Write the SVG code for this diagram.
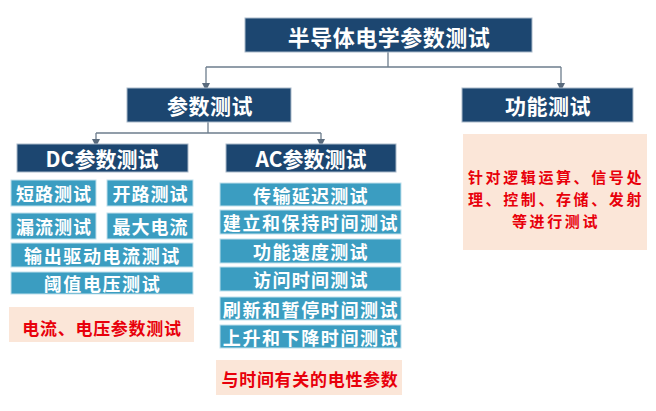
<svg xmlns="http://www.w3.org/2000/svg" width="656" height="411" viewBox="0 0 656 411">
<defs>
<marker id="arr" markerWidth="8" markerHeight="8" refX="4" refY="4" orient="auto" markerUnits="userSpaceOnUse">
<path d="M0,0 L8,4 L0,8 z" fill="#5a6b7d"/>
</marker>
<style>
.dark{fill:#1c4670;stroke:#a9b9c9;stroke-width:1}
.item{fill:#3b9dc1;stroke:#bfe0ec;stroke-width:1}
.note{fill:#fbe6d8}
.tw{fill:#ffffff;font-family:"Noto Sans CJK SC","Noto Sans",sans-serif;font-weight:bold;text-anchor:middle;dominant-baseline:central}
.tr{fill:#e8000b;font-family:"Noto Sans CJK SC","Noto Sans",sans-serif;font-weight:bold;text-anchor:middle;dominant-baseline:central}
.c{fill:none;stroke:#6d7d8d;stroke-width:1.3}
</style>
</defs>
<rect width="656" height="411" fill="#ffffff"/>
<g id="connectors">
<path class="c" d="M388,52 V67 M206,67 H561"/>
<path class="c" d="M206,67 V87" marker-end="url(#arr)"/>
<path class="c" d="M561,67 V87" marker-end="url(#arr)"/>
<path class="c" d="M208,122 V133 M96,133 H321"/>
<path class="c" d="M96,133 V143" marker-end="url(#arr)"/>
<path class="c" d="M321,133 V143" marker-end="url(#arr)"/>
</g>
<g id="root"><rect class="dark" x="245" y="18" width="287" height="34"/><text class="tw" x="389" y="35.5" font-size="22" letter-spacing="0.5">半导体电学参数测试</text></g>
<g id="param"><rect class="dark" x="127" y="88" width="164" height="34"/><text class="tw" x="210" y="105" font-size="21" letter-spacing="0.5">参数测试</text></g>
<g id="func"><rect class="dark" x="462" y="88" width="171" height="34"/><text class="tw" x="548" y="105" font-size="21" letter-spacing="0.5">功能测试</text></g>
<g id="func-note"><rect class="note" x="463" y="134" width="184" height="116"/>
<text class="tr" font-size="15" letter-spacing="2.6"><tspan x="556" y="176">针对逻辑运算、信号处</tspan><tspan x="556" y="198">理、控制、存储、发射</tspan><tspan x="556" y="220">等进行测试</tspan></text></g>
<g id="dc"><rect class="dark" x="17" y="144" width="171" height="28"/><text class="tw" x="102" y="158" font-size="21">DC参数测试</text></g>
<g id="ac"><rect class="dark" x="226" y="144" width="170" height="28"/><text class="tw" x="311" y="158" font-size="21">AC参数测试</text></g>
<g id="dc1"><rect class="item" x="11" y="180" width="85" height="26"/><text class="tw" x="54" y="193" font-size="18" letter-spacing="1">短路测试</text></g>
<g id="dc2"><rect class="item" x="107" y="180" width="86" height="26"/><text class="tw" x="150.5" y="193" font-size="18" letter-spacing="1">开路测试</text></g>
<g id="dc3"><rect class="item" x="11" y="213" width="85" height="26"/><text class="tw" x="54" y="226" font-size="18" letter-spacing="1">漏流测试</text></g>
<g id="dc4"><rect class="item" x="107" y="213" width="86" height="26"/><text class="tw" x="150.5" y="226" font-size="18" letter-spacing="1">最大电流</text></g>
<g id="dc5"><rect class="item" x="11" y="243" width="182" height="24"/><text class="tw" x="102.5" y="255" font-size="18" letter-spacing="1.6">输出驱动电流测试</text></g>
<g id="dc6"><rect class="item" x="11" y="272" width="182" height="22"/><text class="tw" x="102.5" y="283" font-size="18" letter-spacing="1.6">阈值电压测试</text></g>
<g id="dc-note"><rect class="note" x="9" y="307" width="185" height="35"/><text class="tr" x="102" y="327" font-size="17" letter-spacing="0.7">电流、电压参数测试</text></g>
<g id="ac1"><rect class="item" x="220" y="183" width="181" height="23"/><text class="tw" x="311" y="194.5" font-size="18" letter-spacing="1.3">传输延迟测试</text></g>
<g id="ac2"><rect class="item" x="220" y="210" width="181" height="24"/><text class="tw" x="311" y="222" font-size="18" letter-spacing="1.6">建立和保持时间测试</text></g>
<g id="ac3"><rect class="item" x="220" y="239" width="181" height="24"/><text class="tw" x="311" y="251" font-size="18" letter-spacing="1.3">功能速度测试</text></g>
<g id="ac4"><rect class="item" x="220" y="267" width="181" height="24"/><text class="tw" x="311" y="279" font-size="18" letter-spacing="1.3">访问时间测试</text></g>
<g id="ac5"><rect class="item" x="220" y="297" width="181" height="23"/><text class="tw" x="311" y="308.5" font-size="18" letter-spacing="1.6">刷新和暂停时间测试</text></g>
<g id="ac6"><rect class="item" x="220" y="325" width="181" height="23"/><text class="tw" x="311" y="336.5" font-size="18" letter-spacing="1.6">上升和下降时间测试</text></g>
<g id="ac-note"><rect class="note" x="216" y="360" width="186" height="35"/><text class="tr" x="310" y="378" font-size="17" letter-spacing="0.7">与时间有关的电性参数</text></g>
</svg>
